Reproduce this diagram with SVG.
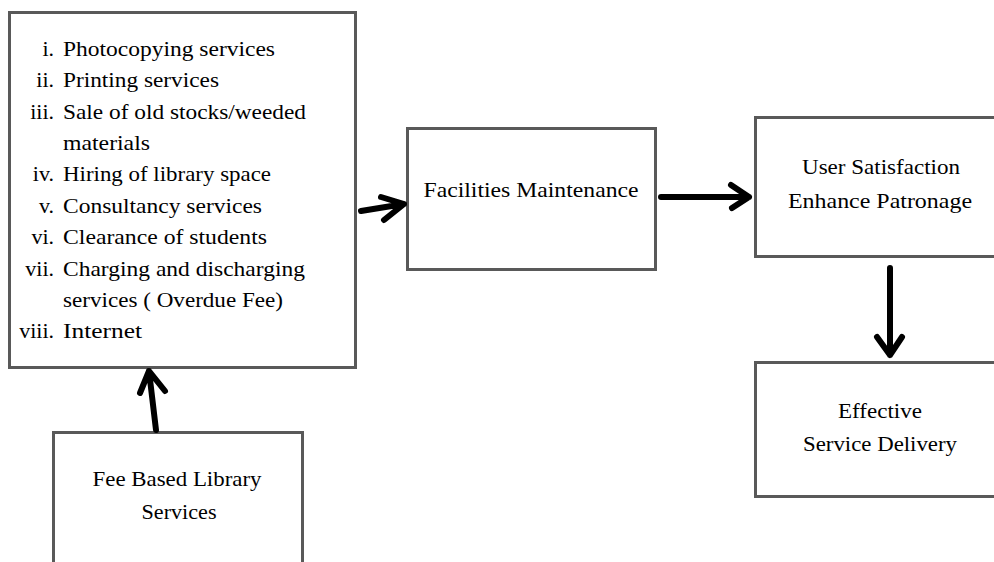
<svg xmlns="http://www.w3.org/2000/svg" width="994" height="562" viewBox="0 0 994 562">
<style>
.box{fill:#fff;stroke:#595959;stroke-width:3}
text{font-family:"Liberation Serif","Times New Roman",serif;font-size:22px;fill:#000}
.c{text-anchor:middle}
.n{text-anchor:end}
.arr{fill:none;stroke:#000;stroke-width:6;stroke-linecap:round;stroke-linejoin:round}
</style>
<rect width="994" height="562" fill="#fff"/>
<g id="services">
<rect class="box" x="9.5" y="12.5" width="346" height="355"/>
<text class="n" x="54" y="56">i.</text><text x="63" y="56" textLength="212" lengthAdjust="spacingAndGlyphs">Photocopying services</text>
<text class="n" x="54" y="87">ii.</text><text x="63" y="87" textLength="156" lengthAdjust="spacingAndGlyphs">Printing services</text>
<text class="n" x="54" y="119">iii.</text><text x="63" y="119" textLength="243" lengthAdjust="spacingAndGlyphs">Sale of old stocks/weeded</text>
<text x="63" y="150" textLength="87" lengthAdjust="spacingAndGlyphs">materials</text>
<text class="n" x="54" y="181">iv.</text><text x="63" y="181" textLength="208" lengthAdjust="spacingAndGlyphs">Hiring of library space</text>
<text class="n" x="54" y="213">v.</text><text x="63" y="213" textLength="199" lengthAdjust="spacingAndGlyphs">Consultancy services</text>
<text class="n" x="54" y="244">vi.</text><text x="63" y="244" textLength="204" lengthAdjust="spacingAndGlyphs">Clearance of students</text>
<text class="n" x="54" y="276">vii.</text><text x="63" y="276" textLength="242" lengthAdjust="spacingAndGlyphs">Charging and discharging</text>
<text x="63" y="307" textLength="220" lengthAdjust="spacingAndGlyphs">services ( Overdue Fee)</text>
<text class="n" x="54" y="338">viii.</text><text x="63" y="338" textLength="79" lengthAdjust="spacingAndGlyphs">Internet</text>
</g>
<g id="facilities">
<rect class="box" x="407.5" y="128.5" width="248" height="141"/>
<text class="c" x="531" y="197" textLength="215" lengthAdjust="spacingAndGlyphs">Facilities Maintenance</text>
</g>
<g id="satisfaction">
<rect class="box" x="755.5" y="117.5" width="250" height="139"/>
<text class="c" x="881" y="174" textLength="158" lengthAdjust="spacingAndGlyphs">User Satisfaction</text>
<text class="c" x="880" y="208" textLength="184" lengthAdjust="spacingAndGlyphs">Enhance Patronage</text>
</g>
<g id="delivery">
<rect class="box" x="755.5" y="362.5" width="250" height="134"/>
<text class="c" x="880" y="418" textLength="84" lengthAdjust="spacingAndGlyphs">Effective</text>
<text class="c" x="880" y="451" textLength="154" lengthAdjust="spacingAndGlyphs">Service Delivery</text>
</g>
<g id="fee">
<rect class="box" x="53.5" y="432.5" width="249" height="140"/>
<text class="c" x="177" y="486" textLength="169" lengthAdjust="spacingAndGlyphs">Fee Based Library</text>
<text class="c" x="179" y="519" textLength="75" lengthAdjust="spacingAndGlyphs">Services</text>
</g>
<g id="connectors">
<path class="arr" d="M156,430 L149,371 M140,393 L149,371 L165,391"/>
<path class="arr" d="M361,211 L404,204 M381,197 L404,204 L384,220"/>
<path class="arr" d="M661,197 L749,197 M731,185 L749,197 L732,208"/>
<path class="arr" d="M890,268 L890,355 M877,337 L890,355 L902,337"/>
</g>
</svg>
